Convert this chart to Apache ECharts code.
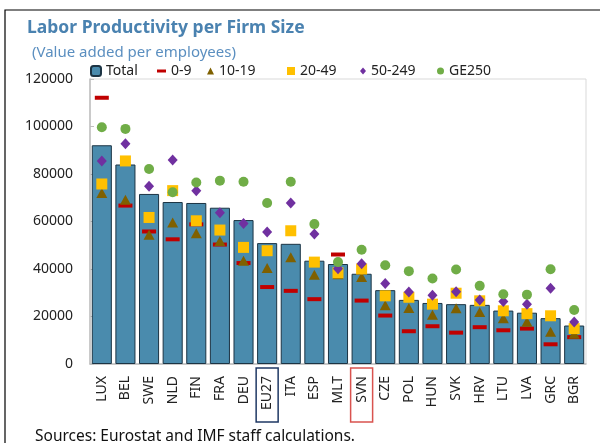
<!DOCTYPE html>
<html>
<head>
<meta charset="utf-8">
<script src="https://cdn.jsdelivr.net/npm/echarts@6/dist/echarts.min.js"></script>
<style>
  html, body { margin: 0; padding: 0; background: #fff; }
  #chart { width: 600px; height: 443px; }
</style>
</head>
<body>
<div id="chart"></div>
<script>
const countries = ["LUX", "BEL", "SWE", "NLD", "FIN", "FRA", "DEU", "EU27", "ITA", "ESP", "MLT",
  "SVN", "CZE", "POL", "HUN", "SVK", "HRV", "LTU", "LVA", "GRC", "BGR"];

const total = [92100, 84000, 71600, 68200, 67800, 65800, 60600, 50900, 50600, 43500, 42100,
  38000, 31100, 27000, 25700, 25200, 24900, 22500, 21600, 19300, 16200];
const size0to9 = [112100, 66700, 55800, 52500, 58800, 50300, 42500, 32400, 30800, 27300, 46100,
  26700, 20400, 13800, 15900, 13200, 15500, 14200, 14900, 8300, 11300];
const size10to19 = [72000, 69200, 54400, 59600, 55100, 51800, 43500, 40400, 45000, 37600, 37800,
  36600, 24700, 23600, 20700, 23500, 21900, 19300, 17800, 13600, 12700];
const size20to49 = [75800, 85500, 61700, 73000, 60300, 56400, 49100, 47700, 56100, 42900, 38400,
  40000, 28700, 28100, 25200, 29800, 26600, 22400, 21200, 20300, 14900];
const size50to249 = [85500, 92700, 74800, 85900, 72900, 63700, 59200, 55600, 67800, 54700, 40100,
  42200, 33900, 30300, 29000, 30400, 27000, 26300, 25200, 31900, 17700];
const sizeGE250 = [99700, 99000, 82100, 72300, 76400, 77200, 76700, 67800, 76700, 58900, 42900,
  48100, 41600, 39100, 36000, 39800, 32900, 29400, 29200, 39900, 22700];

const yTicks = [0, 20000, 40000, 60000, 80000, 100000, 120000];

const FONT = "Noto Sans";

// marker look per firm-size series (x = legend position)
const markers = [
  { name: "0-9", data: size0to9, symbol: "rect", size: [14, 4], color: "#c00000", leg: [9, 3], x: 152 },
  { name: "10-19", data: size10to19, symbol: "triangle", size: [11, 10], color: "#7f6000", leg: [7, 7], x: 202 },
  { name: "20-49", data: size20to49, symbol: "rect", size: [11, 11], color: "#ffc000", leg: [8, 8], x: 282 },
  { name: "50-249", data: size50to249, symbol: "diamond", size: [10, 11], color: "#7030a0", leg: [6, 7], x: 355 },
  { name: "GE250", data: sizeGE250, symbol: "circle", size: [10, 10], color: "#70ad47", leg: [7, 7], x: 432 }
];

const chart = echarts.init(document.getElementById("chart"), null, { renderer: "canvas" });

const legendText = { fontFamily: FONT, fontSize: 14, color: "#222" };

const option = {
  animation: false,
  textStyle: { fontFamily: FONT },
  title: [
    {
      text: "Labor Productivity per Firm Size",
      left: 22, top: 14,
      textStyle: { fontFamily: FONT, fontSize: 17.5, fontWeight: "bold", color: "#4a82b0" }
    },
    {
      text: "(Value added per employees)",
      left: 27, top: 40,
      textStyle: { fontFamily: FONT, fontSize: 15, fontWeight: "normal", color: "#5b8fc0" }
    },
    {
      text: "Sources: Eurostat and IMF staff calculations.",
      left: 30, top: 424,
      textStyle: { fontFamily: FONT, fontSize: 15.5, fontWeight: "normal", color: "#111" }
    }
  ],
  graphic: [{
    type: "rect",
    silent: true,
    shape: { x: 5, y: 10, width: 700, height: 500 },
    style: { fill: "none", stroke: "#000", lineWidth: 1.2 }
  }],
  legend: [
    {
      data: ["Total"], left: 85, top: 59, itemWidth: 10, itemHeight: 10, itemGap: 0,
      textStyle: legendText
    }
  ].concat(markers.map((m) => ({
    data: [{ name: m.name, icon: m.symbol }],
    left: m.x, top: 59, itemWidth: m.leg[0], itemHeight: m.leg[1], itemGap: 0,
    textStyle: legendText
  }))),
  grid: {
    left: 90, right: 14, top: 79, bottom: 79,
    show: true, borderColor: "#d9d9d9", borderWidth: 1
  },
  xAxis: {
    type: "category",
    data: countries,
    axisLine: { lineStyle: { color: "#bfbfbf", width: 1.5 } },
    axisTick: { inside: true, length: 4, lineStyle: { color: "#bfbfbf" } },
    axisLabel: {
      interval: 0,
      rotate: 90,
      margin: 4,
      fontFamily: FONT,
      fontSize: 14,
      color: "#222",
      formatter: (v) => v === "EU27" ? `{eu|${v}}` : v === "SVN" ? `{svn|${v}}` : `{n|${v}}`,
      rich: {
        n: { fontFamily: FONT, fontSize: 14, color: "#222", padding: [0, 8, 0, 0] },
        eu: {
          fontFamily: FONT, fontSize: 14, color: "#222", width: 38, height: 16, align: "right",
          padding: [3, 8, 3, 8], borderColor: "#1f3864", borderWidth: 1.5
        },
        svn: {
          fontFamily: FONT, fontSize: 14, color: "#222", width: 38, height: 16, align: "right",
          padding: [3, 8, 3, 8], borderColor: "#d9534f", borderWidth: 1.5
        }
      }
    }
  },
  yAxis: {
    type: "value",
    min: yTicks[0],
    max: yTicks[yTicks.length - 1],
    interval: yTicks[1] - yTicks[0],
    splitLine: { show: false },
    axisLine: { show: true, lineStyle: { color: "#bfbfbf", width: 1.5 } },
    axisTick: { show: true, inside: true, length: 4, lineStyle: { color: "#bfbfbf" } },
    axisLabel: {
      margin: 17, fontFamily: FONT, fontSize: 14, color: "#222",
      formatter: (v) => String(v)
    }
  },
  series: [
    {
      name: "Total",
      type: "bar",
      data: total,
      barCategoryGap: "15%",
      itemStyle: { color: "#4a8bad", borderColor: "#1c3444", borderWidth: 1 }
    }
  ].concat(markers.map((m) => ({
    name: m.name,
    type: "scatter",
    data: m.data,
    symbol: m.symbol,
    symbolSize: m.size,
    itemStyle: { color: m.color, opacity: 1 },
    z: 3
  })))
};

chart.setOption(option);
</script>
</body>
</html>
